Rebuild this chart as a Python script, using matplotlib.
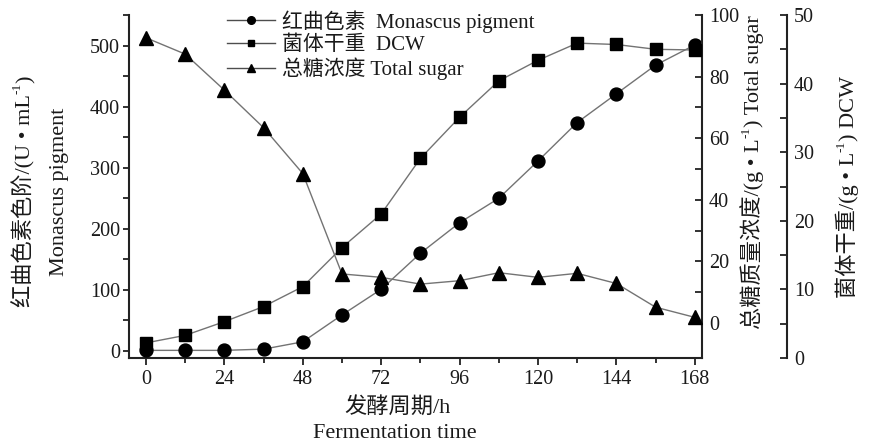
import matplotlib
matplotlib.use('Agg')
import matplotlib.pyplot as plt
from matplotlib.ticker import FixedLocator
from matplotlib.lines import Line2D

# ---- data ----
time_h = [0, 12, 24, 36, 48, 60, 72, 84, 96, 108, 120, 132, 144, 156, 168]
pigment = [1, 1, 1, 3, 15, 59, 101, 160, 210, 250, 311, 374, 421, 468, 501]
dcw = [2.2, 3.3, 5.3, 7.5, 10.4, 16.1, 21.0, 29.1, 35.1, 40.4, 43.4, 45.9, 45.7, 45.0, 44.9]
sugar = [92.6, 87.3, 75.6, 63.4, 48.5, 15.9, 14.8, 12.6, 13.7, 16.3, 14.8, 16.1, 12.8, 5.1, 1.8]

x_ticks = [0, 24, 48, 72, 96, 120, 144, 168]
pig_ticks = [0, 100, 200, 300, 400, 500]
sugar_ticks = [0, 20, 40, 60, 80, 100]
dcw_ticks = [0, 10, 20, 30, 40, 50]

legend_labels = ['红曲色素  Monascus pigment', '菌体干重  DCW', '总糖浓度 Total sugar']

FAM = ['Liberation Serif', 'Noto Sans CJK SC', 'DejaVu Sans']
plt.rcParams['font.family'] = FAM
plt.rcParams['axes.unicode_minus'] = False

W, H = 870, 446
fig = plt.figure(figsize=(W / 100, H / 100), dpi=100)


def fx(px):
    return px / W


def fy(py):
    return 1 - py / H


TXT = '#1a1a1a'
LINEC = '0.45'
ax = fig.add_axes([fx(129), fy(358), fx(702) - fx(129), fy(15) - fy(358)])
ax2 = ax.twinx()
ax3 = ax.twinx()
ax3.spines['right'].set_position(('outward', 85 * 0.72))

for a in (ax, ax2, ax3):
    a.spines['top'].set_visible(False)
    for s in a.spines.values():
        s.set_linewidth(1.5)
        s.set_color('#222222')
for a in (ax2, ax3):
    a.spines['left'].set_visible(False)
    a.spines['bottom'].set_visible(False)
ax.spines['right'].set_visible(False)

ax.plot(time_h, pigment, color=LINEC, lw=1, marker='o', ms=9.3, mfc='k', mec='k', zorder=3)
ax3.plot(time_h, dcw, color=LINEC, lw=1, marker='s', ms=8.2, mfc='k', mec='k', zorder=3)
ax2.plot(time_h, sugar, color=LINEC, lw=1, marker='^', ms=10, mfc='k', mec='k', zorder=3)

ax.set_xlim(-5.2, 170.2)
ax.set_ylim(-11.5, 550)
ax2.set_ylim(-11.4, 100)
ax3.set_ylim(0, 50)

ax.xaxis.set_major_locator(FixedLocator(x_ticks))
ax.xaxis.set_minor_locator(FixedLocator([12, 36, 60, 84, 108, 132, 156]))
ax.yaxis.set_major_locator(FixedLocator(pig_ticks))
ax.yaxis.set_minor_locator(FixedLocator([50, 150, 250, 350, 450, 550]))
ax2.yaxis.set_major_locator(FixedLocator(sugar_ticks))
ax2.yaxis.set_minor_locator(FixedLocator([10, 30, 50, 70, 90]))
ax3.yaxis.set_major_locator(FixedLocator(dcw_ticks))
ax3.yaxis.set_minor_locator(FixedLocator([5, 15, 25, 35, 45]))

TS = 14.5
ax.tick_params(axis='x', which='major', direction='out', length=5, width=1.3, labelsize=TS, colors='#222222', labelcolor=TXT, pad=4)
ax.tick_params(axis='x', which='minor', direction='out', length=3.5, width=1.3, colors='#222222')
ax.tick_params(axis='y', which='major', direction='out', length=4.5, width=1.3, labelsize=TS, colors='#222222', labelcolor=TXT, pad=2)
ax.tick_params(axis='y', which='minor', direction='out', length=4, width=1.3, colors='#222222')
for a in (ax2, ax3):
    a.tick_params(axis='y', which='major', direction='in', length=5, width=1.3, labelsize=TS, colors='#222222', labelcolor=TXT, pad=5)
    a.tick_params(axis='y', which='minor', direction='in', length=5, width=1.3, colors='#222222')

LS = 16
renderer = fig.canvas.get_renderer()


def vlabel(xc, yc, pieces, size=LS):
    """Draw rotated (90 deg) text made of (string, is_superscript) pieces,
    centred at pixel (xc, yc) measured from the top-left corner."""
    objs = []
    total = 0.0
    for s, sup in pieces:
        fs = size * (0.6 if sup else 1.0)
        t = fig.text(0, 0, s, rotation=90, rotation_mode='anchor', ha='left',
                     va='baseline', fontsize=fs, color=TXT)
        h = t.get_window_extent(renderer).height
        objs.append((t, sup, h))
        total += h
    # baseline offset so that the text body is centred on xc
    y_cursor = (H - yc) - total / 2.0
    xb = xc + size * 100 / 72 * 0.33
    for t, sup, h in objs:
        xx = xb - (size * 100 / 72 * 0.42 if sup else 0)
        t.set_position((fx(xx), y_cursor / H))
        y_cursor += h


vlabel(23, 191, [('红曲色素色阶/(U • mL', False), ('-1', True), (')', False)])
fig.text(fx(60), fy(192), 'Monascus pigment', rotation=90, ha='center', va='center', fontsize=LS, color=TXT)
vlabel(752, 172, [('总糖质量浓度/(g • L', False), ('-1', True), (') Total sugar', False)])
vlabel(847, 187, [('菌体干重/(g • L', False), ('-1', True), (') DCW', False)])
fig.text(fx(397), fy(407), '发酵周期/h', ha='center', va='center', fontsize=LS, color=TXT)
fig.text(fx(395), fy(433), 'Fermentation time', ha='center', va='center', fontsize=LS, color=TXT)

handles = [
    Line2D([], [], color='0.3', lw=1, marker='o', ms=5.5, mfc='k', mec='k'),
    Line2D([], [], color='0.3', lw=1, marker='s', ms=5, mfc='k', mec='k'),
    Line2D([], [], color='0.3', lw=1, marker='^', ms=6, mfc='k', mec='k'),
]
leg = fig.legend(handles, legend_labels, loc='upper left', bbox_to_anchor=(fx(227), fy(10)),
                 frameon=False, fontsize=15, handlelength=2.3, handletextpad=0.35,
                 labelspacing=0.13, borderpad=0, borderaxespad=0)
for t in leg.get_texts():
    t.set_color(TXT)

fig.savefig('out.png', dpi=100)
